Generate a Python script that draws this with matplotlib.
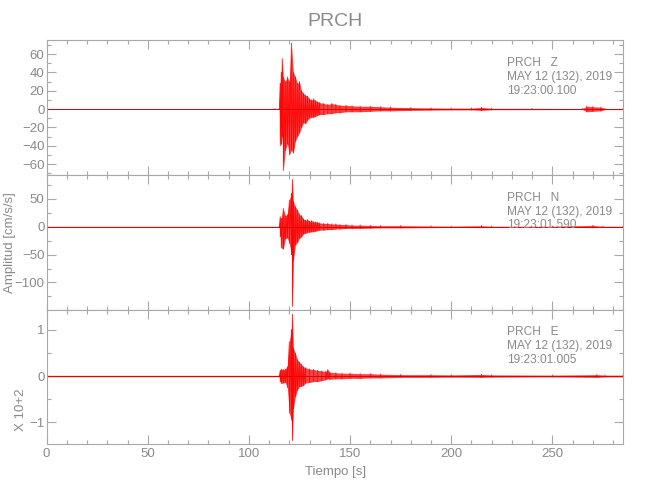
#!/usr/bin/env python3
import numpy as np
import matplotlib
matplotlib.use("Agg")
import matplotlib.pyplot as plt
from matplotlib.ticker import MultipleLocator

station = "PRCH"
components = ["Z", "N", "E"]
start_times = ["19:23:00.100", "19:23:01.590", "19:23:01.005"]
date_str = "MAY 12 (132), 2019"

# envelope of each trace: time [s], upper, lower [cm/s/s]
t_z = [0, 113, 115, 115.5, 116, 116.5, 117, 118, 119, 120, 121, 122, 123, 124, 125, 126, 127, 128, 129, 130,
       131, 132, 133, 134, 135, 137, 139, 141, 143, 145, 148, 151, 155, 160, 165, 170, 180, 190, 200, 210,
       215, 220, 240, 265, 267, 270, 274, 276, 285]
hi_z = [0.4, 0.4, 0.5, 28, 40, 55, 35, 30, 35, 30, 72, 40, 35, 28, 30, 20, 17, 15, 14, 11,
        10, 11, 9, 8, 7, 6, 5, 6, 5, 4, 4, 3.5, 3, 3, 2.5, 2, 1.5, 1.2, 1, 1,
        1.8, 0.8, 0.7, 0.6, 3, 2.5, 2, 0.6, 0.6]
lo_z = [-0.4, -0.4, -0.5, -40, -38, -30, -67, -45, -38, -50, -45, -48, -35, -30, -26, -20, -15, -16, -12, -10,
        -9, -9, -8, -7, -6, -6, -5, -5, -4, -4, -3, -3, -3, -2.5, -2, -2, -1.5, -1.2, -1, -1,
        -1.5, -0.8, -0.7, -0.6, -3, -2.5, -2, -0.6, -0.6]

t_n = [0, 115, 115.5, 116, 117, 118, 119, 120, 121, 121.5, 122, 123, 124, 125, 126, 127, 128, 129, 130, 131,
       132, 133, 134, 135, 137, 139, 141, 143, 145, 148, 151, 155, 160, 165, 175, 190, 200, 215, 220, 250,
       270, 275, 285]
hi_n = [0.8, 0.8, 18, 15, 33, 20, 22, 48, 60, 85, 45, 36, 30, 22, 20, 14, 12, 13, 10, 11,
        9, 9, 8, 7, 6, 6, 5, 5, 4, 4, 3, 3, 2.5, 2, 2, 1.5, 1.2, 2, 1, 1,
        2.5, 1, 1]
lo_n = [-0.8, -0.8, -18, -38, -40, -22, -20, -30, -50, -143, -60, -33, -28, -21, -18, -13, -12, -10, -10, -9,
        -9, -8, -7, -6, -6, -5, -5, -4, -4, -3, -3, -3, -2.5, -2, -2, -1.5, -1.2, -1.5, -1, -1,
        -1.5, -1, -1]

t_e = [0, 115, 115.5, 116, 117, 118, 119, 120, 121, 121.5, 122, 123, 124, 125, 126, 127, 128, 130, 132, 134,
       136, 138, 139, 140, 143, 146, 150, 155, 160, 165, 175, 190, 200, 215, 220, 250, 272, 276, 285]
hi_e = [1.5, 1.5, 12, 15, 14, 15, 20, 74, 100, 133, 60, 49, 35, 30, 25, 20, 18, 15, 14, 12,
        11, 10, 14, 8, 7, 6, 6, 5, 5, 4, 3, 3, 2.5, 3.5, 2.5, 2, 3, 2, 2]
lo_e = [-1.5, -1.5, -12, -16, -15, -14, -25, -80, -95, -139, -70, -44, -30, -23, -22, -20, -15, -14, -12, -12,
        -10, -8, -6, -7, -6, -6, -5, -5, -4, -4, -3, -3, -2.5, -3, -2.5, -2, -3, -2, -2]

traces = [(t_z, hi_z, lo_z, 1.0), (t_n, hi_n, lo_n, 1.0), (t_e, hi_e, lo_e, 100.0)]
ylims = [(-72, 75), (-149, 93), (-1.47, 1.43)]
ymajor = [20, 50, 1]
yminor = [10, 25, 0.5]

gray = "#8a8a8a"
axgray = "#a8a8a8"
plt.rcParams['font.family'] = ['Liberation Sans', 'DejaVu Sans']

fig = plt.figure(figsize=(6.5, 5), dpi=100)
left, width, h = 0.0717, 0.887, 0.2694
bottoms = [0.65, 0.3806, 0.1114]

for i in range(3):
    ax = fig.add_axes([left, bottoms[i], width, h])
    t, hi, lo, scale = traces[i]
    t = np.array(t, dtype=float)
    hi = np.array(hi) / scale
    lo = np.array(lo) / scale
    ax.fill_between(t, lo, hi, color="red", alpha=0.75, lw=0)
    # zig-zag between upper and lower envelope, only where samples are dense
    zx = []
    zy = []
    for k in range(len(t)):
        if k > 0 and t[k] - t[k - 1] > 1:
            zx.append(np.nan)
            zy.append(np.nan)
        zx += [t[k], t[k]]
        zy += [hi[k], lo[k]]
    ax.plot(zx, zy, color="red", lw=0.6, alpha=0.9)
    ax.axhline(0, color="#e00000", lw=0.7)

    ax.set_xlim(0, 285)
    ax.set_ylim(*ylims[i])
    ax.xaxis.set_major_locator(MultipleLocator(50))
    ax.xaxis.set_minor_locator(MultipleLocator(10))
    ax.yaxis.set_major_locator(MultipleLocator(ymajor[i]))
    ax.yaxis.set_minor_locator(MultipleLocator(yminor[i]))
    ax.tick_params(which="both", direction="in", top=True, right=True, color=axgray,
                   labelcolor=gray, labelsize=9.5, pad=1.5)
    ax.tick_params(which="major", length=6.5, width=0.8)
    ax.tick_params(which="minor", length=3.2, width=0.8)
    ax.tick_params(axis="x", pad=3)
    for s in ax.spines.values():
        s.set_color(axgray)
        s.set_linewidth(0.8)
    if i < 2:
        ax.tick_params(axis="x", labelbottom=False)

    ax.text(0.798, 0.876, station + "   " + components[i] + "\n" + date_str + "\n" + start_times[i],
            transform=ax.transAxes, ha="left", va="top", fontsize=8.6, color=gray, linespacing=1.2)

fig.text(0.515, 0.956, station, ha="center", va="center", fontsize=14, color=gray)
fig.text(0.015, 0.514, "Amplitud [cm/s/s]", rotation=90, ha="center", va="center", fontsize=9.5, color=gray)
fig.text(0.032, 0.18, "X 10+2", rotation=90, ha="center", va="center", fontsize=9.5, color=gray)
fig.text(0.516, 0.057, "Tiempo [s]", ha="center", va="center", fontsize=9.5, color=gray)

fig.savefig("out.png", dpi=100)
